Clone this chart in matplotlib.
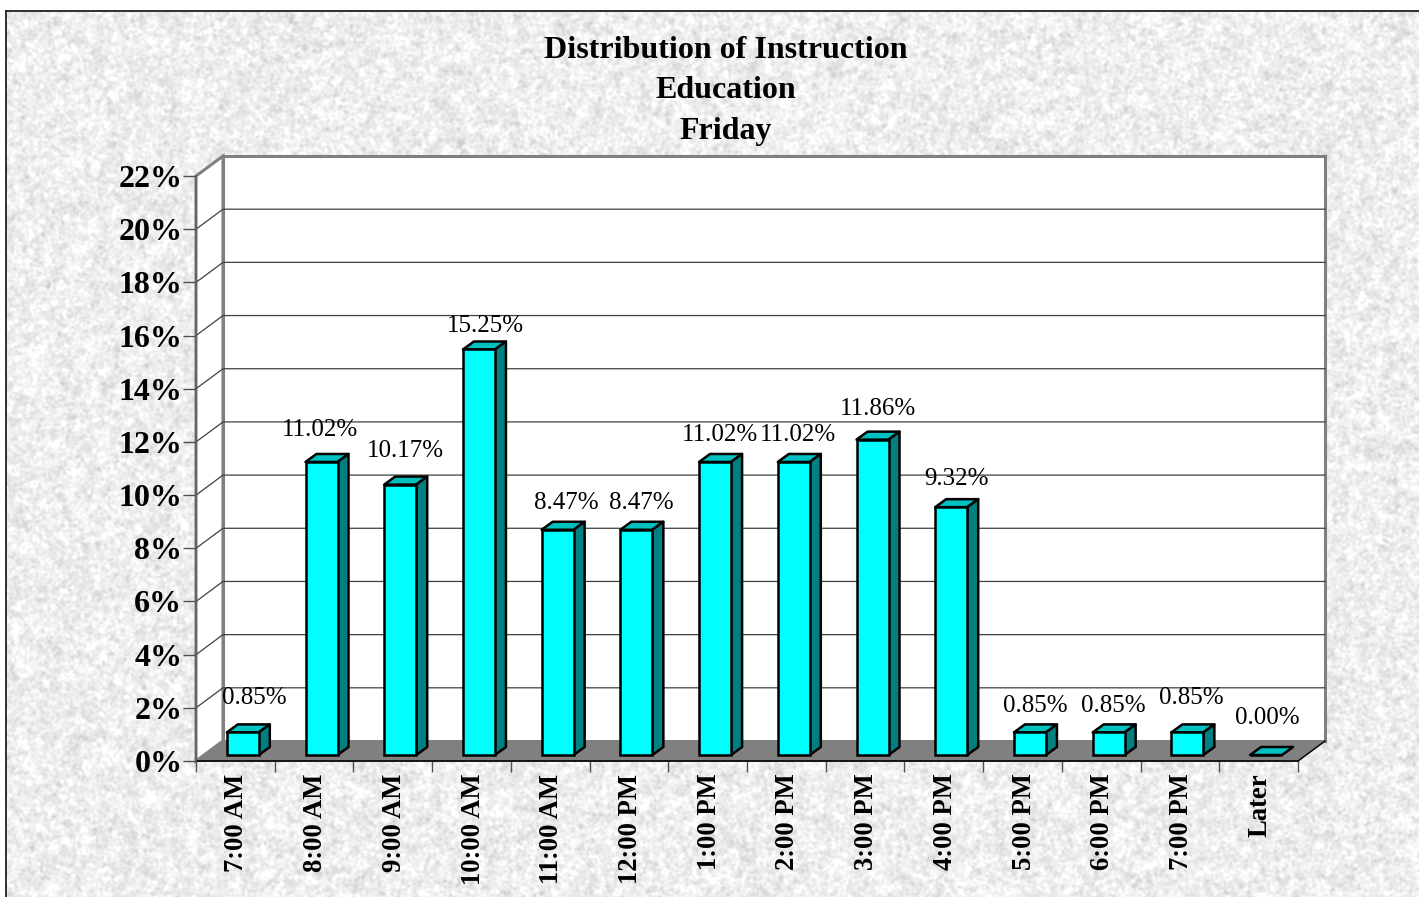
import matplotlib
matplotlib.use("Agg")
import matplotlib.pyplot as plt
import numpy as np
from matplotlib.patches import Polygon

categories = ["7:00 AM", "8:00 AM", "9:00 AM", "10:00 AM", "11:00 AM", "12:00 PM", "1:00 PM",
              "2:00 PM", "3:00 PM", "4:00 PM", "5:00 PM", "6:00 PM", "7:00 PM", "Later"]
values = [0.85, 11.02, 10.17, 15.25, 8.47, 8.47, 11.02, 11.02, 11.86, 9.32, 0.85, 0.85, 0.85, 0.00]
value_labels = ["0.85%", "11.02%", "10.17%", "15.25%", "8.47%", "8.47%", "11.02%", "11.02%",
                "11.86%", "9.32%", "0.85%", "0.85%", "0.85%", "0.00%"]
y_ticks = [0, 2, 4, 6, 8, 10, 12, 14, 16, 18, 20, 22]
title_lines = ["Distribution of Instruction", "Education", "Friday"]

W, H = 1419, 897
PX_X = 1102 / 14   # pixels per category
PX_Y = 585 / 22    # pixels per percent
DEPTH_X = 27 / PX_X
DEPTH_Y = 20 / PX_Y

plt.rcParams["font.family"] = ["Liberation Serif", "DejaVu Serif"]
fig = plt.figure(figsize=(W / 100, H / 100), dpi=100, facecolor="white")

# mottled paper background (decoration only)
rng = np.random.default_rng(7)
noise = rng.normal(size=(H, W))
fy = np.fft.fftfreq(H)[:, None]
fx = np.fft.fftfreq(W)[None, :]
fine = np.fft.ifft2(np.fft.fft2(noise) * np.exp(-2 * (np.pi ** 2) * (fx ** 2 + fy ** 2) * 1.2 ** 2)).real
coarse = np.fft.ifft2(np.fft.fft2(noise) * np.exp(-2 * (np.pi ** 2) * (fx ** 2 + fy ** 2) * 4.0 ** 2)).real
tex = 238 + 7.5 * fine / fine.std() + 2 * coarse / coarse.std()
tex = np.clip(tex, 180, 255)
bg = fig.add_axes([6 / W, 0, 1 - 6 / W, 1 - 11 / H])
bg.imshow(tex[:H - 11, :W - 6], cmap="gray", vmin=0, vmax=255, aspect="auto", interpolation="nearest")
bg.set_xticks([])
bg.set_yticks([])
for side in ("right", "bottom"):
    bg.spines[side].set_visible(False)
for side in ("left", "top"):
    bg.spines[side].set_color("#202020")
    bg.spines[side].set_linewidth(1.3)

ax = fig.add_axes([196 / W, (H - 761) / H, 1102 / W, 585 / H])
ax.patch.set_visible(False)
ax.set_xlim(0, 14)
ax.set_ylim(0, 22)
for s in ax.spines.values():
    s.set_visible(False)

# walls and floor
n = len(categories)
top = y_ticks[-1]
ax.add_patch(Polygon([(DEPTH_X, DEPTH_Y), (n + DEPTH_X, DEPTH_Y), (n + DEPTH_X, top + DEPTH_Y), (DEPTH_X, top + DEPTH_Y)],
                     fc="white", ec="#808080", lw=2.2, clip_on=False, zorder=1))
ax.add_patch(Polygon([(0, 0), (DEPTH_X, DEPTH_Y), (DEPTH_X, top + DEPTH_Y), (0, top)],
                     fc="white", ec="#808080", lw=2.2, clip_on=False, zorder=1))
ax.add_patch(Polygon([(0, 0), (n, 0), (n + DEPTH_X, DEPTH_Y), (DEPTH_X, DEPTH_Y)],
                     fc="#808080", ec="#808080", lw=1, clip_on=False, zorder=2))
for t in y_ticks[1:-1]:
    ax.plot([0, DEPTH_X, n + DEPTH_X], [t, t + DEPTH_Y, t + DEPTH_Y], color="#404040", lw=0.9,
            clip_on=False, zorder=2)
ax.plot([0, n], [0, 0], color="black", lw=1.2, clip_on=False, zorder=3)
ax.plot([n, n + DEPTH_X], [0, DEPTH_Y], color="black", lw=1, clip_on=False, zorder=3)
ax.plot([0, 0], [0, top], color="#606060", lw=1.2, clip_on=False, zorder=3)

# bars
bar_w = 32 / PX_X
bar_off = 30.8 / PX_X
base = 6 / PX_Y
bd_x = 11 / PX_X
bd_y = 8 / PX_Y
lefts = np.arange(n) + bar_off
for x0, v in zip(lefts, values):
    x1 = x0 + bar_w
    y1 = base + v
    ax.add_patch(Polygon([(x0, y1), (x1, y1), (x1 + bd_x, y1 + bd_y), (x0 + bd_x, y1 + bd_y)],
                         fc="#00C0C0", ec="black", lw=1.8, joinstyle="round", clip_on=False, zorder=4))
    if v > 0:
        ax.add_patch(Polygon([(x1, base), (x1 + bd_x, base + bd_y), (x1 + bd_x, y1 + bd_y), (x1, y1)],
                             fc="#008080", ec="black", lw=1.8, joinstyle="round", clip_on=False, zorder=4))
ax.bar(lefts, values, width=bar_w, bottom=base, align="edge", color="#00FFFF", edgecolor="black",
       linewidth=1.8, clip_on=False, zorder=5)

# value labels, nudged by hand like the original
nudge_x = [12, -2, 5, 6, 9, 5, 5, 4, 5, 5, 5, 5, 4, 1]
nudge_y = [34, 32, 34, 23, 27, 27, 27, 27, 31, 28, 26, 26, 34, 37]
for x0, v, lab, nx, ny in zip(lefts, values, value_labels, nudge_x, nudge_y):
    ax.annotate(lab, xy=(x0 + bar_w / 2, base + v), xytext=(nx, ny), textcoords="offset pixels",
                ha="center", va="center", fontsize=18, color="black", annotation_clip=False, zorder=6)

# axes ticks
ax.set_yticks(y_ticks)
ax.set_yticklabels([f"{t}%" for t in y_ticks], fontsize=23, fontweight="bold")
ax.tick_params(axis="y", length=9.4, width=1, color="#505050", pad=0.5)
ax.set_xticks(np.arange(n + 1))
ax.set_xticklabels([])
ax.tick_params(axis="x", which="major", length=8, width=1, color="#505050")
ax.set_xticks(np.arange(n) + 0.52, minor=True)
ax.set_xticklabels(categories, minor=True, rotation=90, fontsize=19.2, fontweight="bold", va="top", ha="center")
ax.tick_params(axis="x", which="minor", length=0, pad=9)

for i, line in enumerate(title_lines):
    fig.text(726 / W, 1 - (51 + 40 * i) / H, line, ha="center", va="center", fontsize=23, fontweight="bold")

fig.savefig("out.png", dpi=100)
